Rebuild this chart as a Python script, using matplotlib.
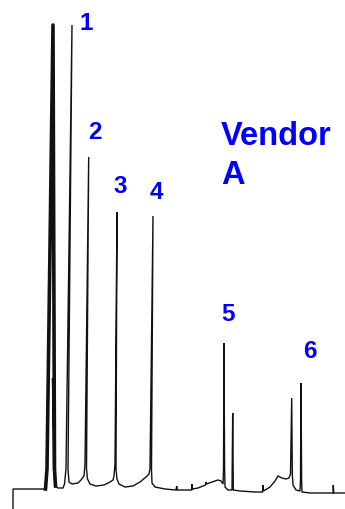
import matplotlib
matplotlib.use("Agg")
import matplotlib.pyplot as plt

# detector trace (time units, response units)
trace_t = [13, 13, 45, 47, 53, 54, 52.5, 53.5, 55, 58, 63,
           64.5, 66, 72, 68, 69, 72, 78, 81, 82.5, 84,
           85, 88.7, 86.5, 87.5, 90, 96, 104, 110, 113, 114,
           115, 117, 116, 117, 119, 125, 133, 140, 146, 149,
           150, 153, 151.5, 152, 155, 165, 176, 176.7, 177.3, 186,
           191.7, 192, 192.5, 198, 205.5, 206, 206.5, 212, 218, 221,
           223, 223.5, 224, 224.6, 225, 228, 232, 232.7, 233.3, 240,
           255, 262.5, 263, 263.5, 270, 275, 278, 282, 286, 289,
           290.5, 291.7, 292.3, 293, 296, 300, 300.5, 301, 301.6, 302,
           310, 333, 333.3, 333.8, 345]
trace_s = [0, 20, 20, 35, 484, 60, 131, 40, 23, 21, 21,
           25, 40, 484, 40, 27, 25, 26, 29, 31, 33,
           45, 352, 40, 30, 25, 23, 24, 27, 29, 33,
           45, 297, 40, 30, 25, 22, 23, 27, 32, 35,
           40, 293, 40, 26, 22, 20, 19, 23, 19, 19,
           19, 25, 20, 21, 24, 27, 25, 27, 29, 28,
           25, 40, 166, 40, 22, 19, 19, 96, 19, 18,
           17, 17, 24, 18, 22, 28, 33, 31, 30, 31,
           35, 111, 35, 24, 19, 18, 30, 126, 30, 17,
           16, 16, 24, 16, 16]

# overloaded solvent front, drawn with a heavier pen
solvent_t = [45.5, 47, 53, 54.5, 55.5]
solvent_s = [20, 40, 484, 40, 23]

# numbered peak labels
peak_labels = ["1", "2", "3", "4", "5", "6"]
label_t = [86, 94.5, 120, 156, 228, 310]
label_s = [479, 370, 316, 310, 188, 151]

title_lines = ["Vendor", "A"]
title_t = 221
title_s = [364, 325]

blue = "#0000ff"

fig = plt.figure(figsize=(3.45, 5.09), dpi=100)
ax = fig.add_axes([0, 0, 1, 1])
ax.set_xlim(0, 345)
ax.set_ylim(0, 509)
ax.axis("off")

ax.plot(trace_t, trace_s, color="#111111", lw=1.0, solid_joinstyle="miter")
ax.plot(solvent_t, solvent_s, color="#111111", lw=2.6)

for lab, t, s in zip(peak_labels, label_t, label_s):
    ax.text(t, s, lab, color=blue, fontsize=17.5, fontweight="bold",
            family="Liberation Sans", ha="center", va="baseline")

for line, s in zip(title_lines, title_s):
    ax.text(title_t, s, line, color=blue, fontsize=23.5, fontweight="bold",
            family="Liberation Sans", ha="left", va="baseline")

fig.savefig("out.png", dpi=100)
